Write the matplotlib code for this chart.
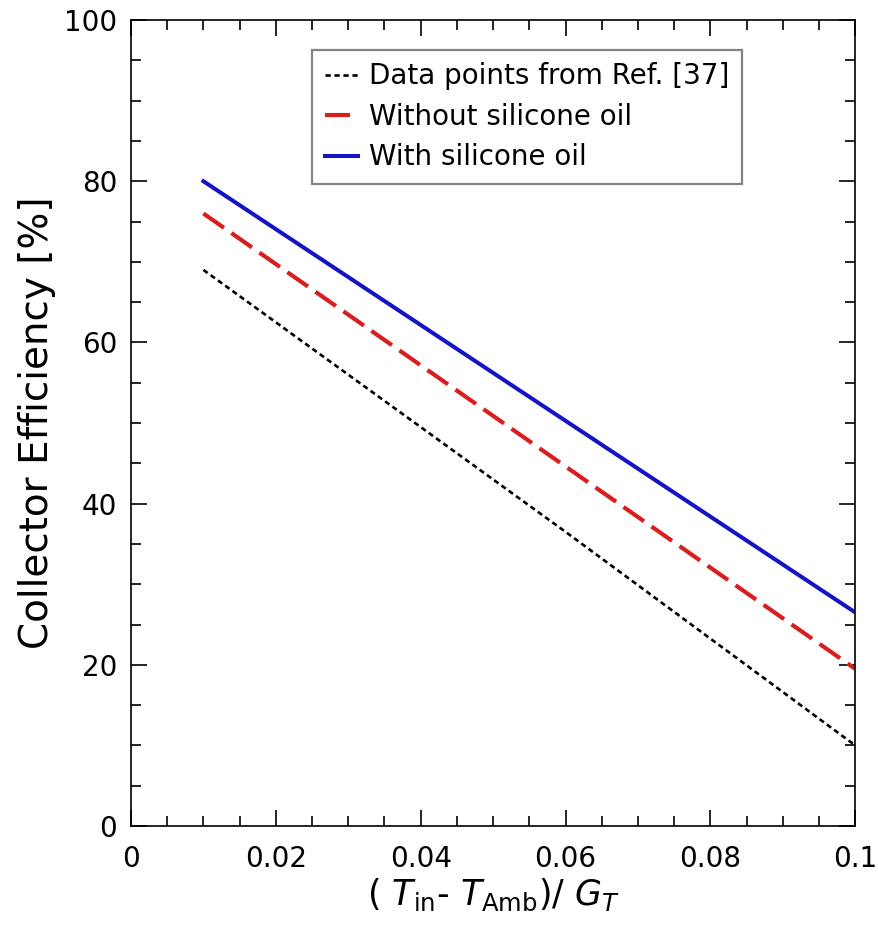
import matplotlib
matplotlib.use("Agg")
import matplotlib.pyplot as plt
from matplotlib.ticker import MultipleLocator

plt.rcParams['font.family'] = ['DejaVu Sans']
plt.rcParams['mathtext.fontset'] = 'dejavusans'

x_ref = [0.01, 0.04, 0.06, 0.1]
y_ref = [69.0, 49.5, 36.5, 10.0]
x_without = [0.01, 0.1]
y_without = [76.0, 19.5]
x_with = [0.01, 0.1]
y_with = [80.0, 26.5]

labels = ["Data points from Ref. [37]", "Without silicone oil", "With silicone oil"]
xticks = [0, 0.02, 0.04, 0.06, 0.08, 0.1]
xticklabels = ['0', '0.02', '0.04', '0.06', '0.08', '0.1']

fig = plt.figure(figsize=(8.79, 9.32), dpi=100)
ax = fig.add_axes([0.149, 0.1137, 0.824, 0.8648])

ax.plot(x_ref, y_ref, color='black', linestyle=(0, (2, 1.4)), linewidth=1.9, label=labels[0])
ax.plot(x_without, y_without, color='#d81e1e', linestyle=(0, (6, 2.2)), linewidth=3.0, label=labels[1])
ax.plot(x_with, y_with, color='#1414c4', linestyle='-', linewidth=2.9, label=labels[2])

ax.set_xlim(0, 0.1)
ax.set_ylim(0, 100)
ax.xaxis.set_ticks(xticks)
ax.set_xticklabels(xticklabels)
ax.xaxis.set_minor_locator(MultipleLocator(0.005))
ax.yaxis.set_major_locator(MultipleLocator(20))
ax.yaxis.set_minor_locator(MultipleLocator(5))
ax.tick_params(which='both', direction='in', top=True, right=True, labelsize=20, width=1.2)
ax.tick_params(axis='x', which='both', pad=14)
ax.tick_params(axis='y', which='both', pad=10)
ax.tick_params(which='major', length=11.5)
ax.tick_params(which='minor', length=7.5)
for s in ax.spines.values():
    s.set_linewidth(1.2)

ax.set_ylabel('Collector Efficiency [%]', fontsize=28, labelpad=6)
ax.set_xlabel('$(\\ T_{\\rm in}$\u2010$\\ T_{\\rm Amb})/\\ G_T$', fontsize=25, labelpad=2)

leg = ax.legend(loc='upper left', bbox_to_anchor=(0.25, 0.963), borderaxespad=0, fontsize=20,
                frameon=True, fancybox=False, edgecolor='#666666', handlelength=1.2,
                handletextpad=0.4, labelspacing=0.45, borderpad=0.45)
leg.get_frame().set_linewidth(1.6)

fig.savefig('out.png', dpi=100)
